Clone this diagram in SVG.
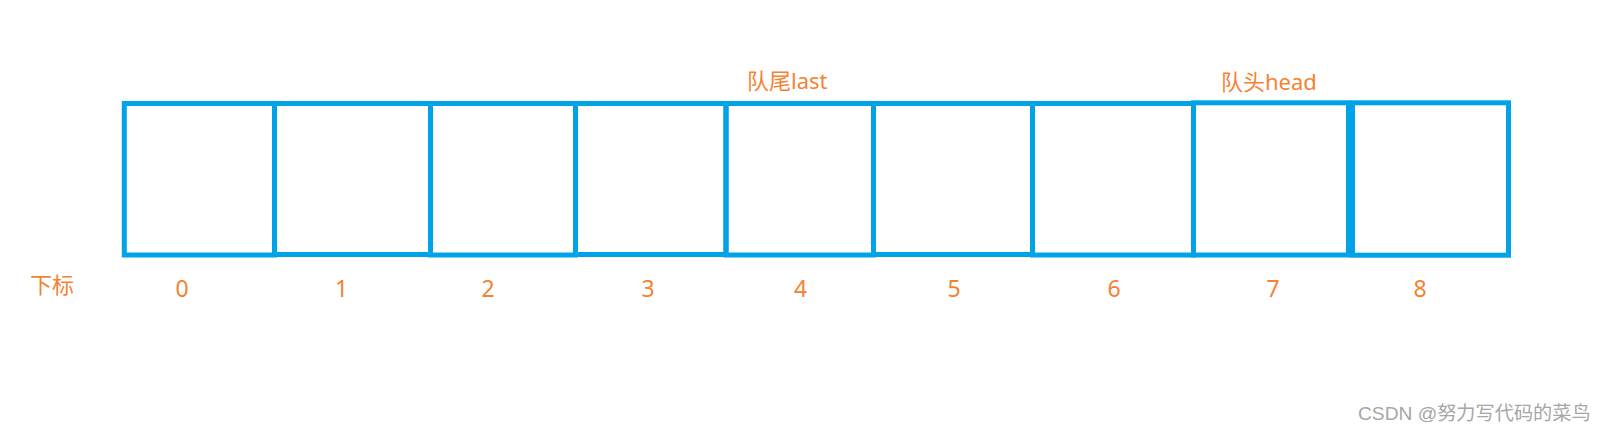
<svg xmlns="http://www.w3.org/2000/svg" width="1604" height="433" viewBox="0 0 1604 433">
<style>
.cell{fill:none;stroke:#00A2E8;stroke-width:5}
.lbl{fill:#F58232;font-family:"Noto Sans","Noto Sans CJK SC",sans-serif;font-size:22px}
.idx{fill:#F58232;font-family:"Noto Sans",sans-serif;font-size:23px;text-anchor:middle}
.wm{fill:#A6A6A6;font-family:"Liberation Sans","Noto Sans CJK SC",sans-serif;font-size:19.2px}
</style>
<rect width="1604" height="433" fill="#FFFFFF"/>
<g id="cells">
<g id="cell0"><rect class="cell" x="124.3" y="103.5" width="150.2" height="151.5"/></g>
<g id="cell1"><rect class="cell" x="274.5" y="103.5" width="156" height="151"/></g>
<g id="cell2"><rect class="cell" x="430.5" y="103.5" width="145" height="151.5"/></g>
<g id="cell3"><rect class="cell" x="575.5" y="103.5" width="150.5" height="151"/></g>
<g id="cell4"><rect class="cell" x="726" y="103.5" width="147.5" height="151.5"/></g>
<g id="cell5"><rect class="cell" x="873.5" y="103.5" width="159" height="151"/></g>
<g id="cell6"><rect class="cell" x="1032.5" y="103.5" width="161" height="151.5"/></g>
<g id="cell7"><rect class="cell" x="1193.5" y="102.8" width="155" height="152.2"/></g>
<g id="cell8"><rect class="cell" x="1352.5" y="102.8" width="156" height="152.4"/></g>
</g>
<g id="labels">
<g id="label-last"><text class="lbl" x="747" y="89">队尾last</text></g>
<g id="label-head"><text class="lbl" x="1221" y="90">队头head</text></g>
<g id="label-index"><text class="lbl" x="30" y="293">下标</text></g>
</g>
<g id="indices">
<text class="idx" x="182" y="296.5">0</text>
<text class="idx" x="341.5" y="296.5">1</text>
<text class="idx" x="488" y="296.5">2</text>
<text class="idx" x="648" y="296.5">3</text>
<text class="idx" x="800.5" y="296.5">4</text>
<text class="idx" x="954" y="296.5">5</text>
<text class="idx" x="1114" y="296.5">6</text>
<text class="idx" x="1273" y="296.5">7</text>
<text class="idx" x="1420" y="296.5">8</text>
</g>
<g id="watermark"><text class="wm" x="1358" y="420">CSDN @努力写代码的菜鸟</text></g>
</svg>
